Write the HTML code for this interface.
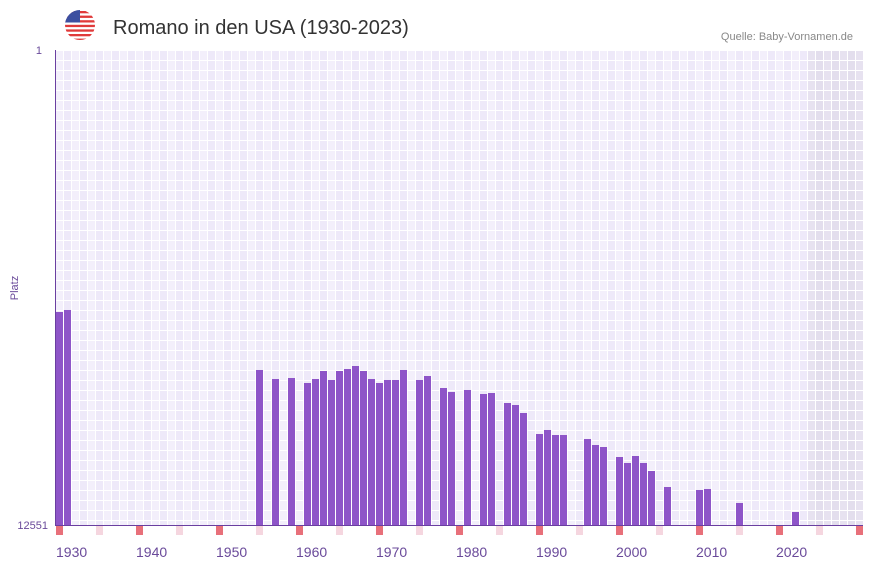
<!DOCTYPE html>
<html><head><meta charset="utf-8">
<style>
body{margin:0;background:#fff;font-family:"Liberation Sans",sans-serif;}
svg{display:block}
</style></head>
<body>
<svg id="chart" width="873" height="567">
  <defs><clipPath id="fc"><circle cx="80" cy="25" r="15"/></clipPath></defs>
  <g clip-path="url(#fc)">
      <rect x="65" y="10" width="30" height="30" fill="#fff"/>
      <rect x="65" y="11" width="30" height="2.3" fill="#e03a3a"/>
      <rect x="65" y="15.6" width="30" height="2.3" fill="#e03a3a"/>
      <rect x="65" y="20.2" width="30" height="2.3" fill="#e03a3a"/>
      <rect x="65" y="24.8" width="30" height="2.3" fill="#e03a3a"/>
      <rect x="65" y="29.4" width="30" height="2.3" fill="#e03a3a"/>
      <rect x="65" y="34" width="30" height="2.3" fill="#e03a3a"/>
      <rect x="65" y="38.6" width="30" height="2.3" fill="#e03a3a"/>
      <rect x="65" y="10" width="15" height="12.5" fill="#3c4fa0"/>
  </g>
  <text x="113" y="34" font-size="20" fill="#333">Romano in den USA (1930-2023)</text>
  <text x="853" y="40" font-size="11" fill="#888" text-anchor="end">Quelle: Baby-Vornamen.de</text>
  <g id="plot" shape-rendering="crispEdges"></g>
  <text x="42" y="54" font-size="11" fill="#6a4a9a" text-anchor="end">1</text>
  <text x="48" y="529" font-size="11" fill="#6a4a9a" text-anchor="end">12551</text>
  <text transform="translate(18,288) rotate(-90)" font-size="11" fill="#6a4a9a" text-anchor="middle">Platz</text>
</svg>
<script>
const years = [1930,1931,1955,1957,1959,1961,1962,1963,1964,1965,1966,1967,1968,1969,1970,1971,1972,1973,1975,1976,1978,1979,1981,1983,1984,1986,1987,1988,1990,1991,1992,1993,1996,1997,1998,2000,2001,2002,2003,2004,2006,2010,2011,2015,2022];
const ranks = [6923,6870,8455,8693,8667,8799,8693,8482,8720,8482,8429,8350,8482,8693,8799,8720,8720,8455,8720,8614,8931,9036,8984,9089,9063,9327,9380,9591,10146,10041,10173,10173,10279,10437,10490,10754,10913,10727,10913,11124,11547,11626,11600,11970,12208];
const xTicks = [1930,1940,1950,1960,1970,1980,1990,2000,2010,2020];
const yMin = 1, yMax = 12551, startYear = 1930, endYear = 2030;
const X0 = 55, SLOT = 8, Y0 = 50, Y1 = 525;
const xs = y => X0 + (y - startYear) * SLOT;
const ys = r => Y0 + (r - yMin) / (yMax - yMin) * (Y1 - Y0);
const NS = "http://www.w3.org/2000/svg";
const plot = document.getElementById('plot');
function mk(tag, attrs, parent){const e=document.createElementNS(NS,tag);for(const k in attrs)e.setAttribute(k,attrs[k]);(parent||plot).appendChild(e);return e;}
const bg = mk('rect',{x:X0,y:Y0,width:(endYear+1-startYear)*SLOT,height:Y1-Y0,fill:'#ffffff'});


for (let y = startYear; y <= endYear; y++) {
  const shade = (y>=2024)?((y%2)?'#e3deed':'#e7e2f0'):((y%2)?'#eee9f9':'#f3effb');
  for (let yy = Y0; yy < Y1; yy += 10) {
    const h = Math.min(9, Y1 - yy - 1);
    if (h <= 0) continue;
    mk('rect',{x:xs(y)+1,y:yy+1,width:SLOT-1,height:h,fill:shade});
  }
}
years.forEach((yr,i)=>{
  const top = ys(ranks[i]);
  const b = mk('rect',{x:xs(yr)+1,y:top,width:SLOT-1,height:Y1-top,fill:'#8e55c8'});
  
  
});
const ax = mk('rect',{x:X0,y:Y0,width:1,height:Y1-Y0,fill:'#6a3fa0'});


const bx = mk('rect',{x:X0,y:Y1,width:(endYear+1-startYear)*SLOT,height:1,fill:'#6a3fa0'});


for (let y = startYear; y <= endYear; y += 5) {
  const m = mk('rect',{x:xs(y)+1,y:Y1+1,width:SLOT-1,height:9,fill:(y%10===0)?'#e8707a':'#f5d6df'});
  
  
}
xTicks.forEach(t=>{
  const tx = mk('text',{x:xs(t)+1,y:557,'font-size':14,fill:'#6a4a9a'});
  tx.textContent = t;
  
  
});
</script>
</body></html>
